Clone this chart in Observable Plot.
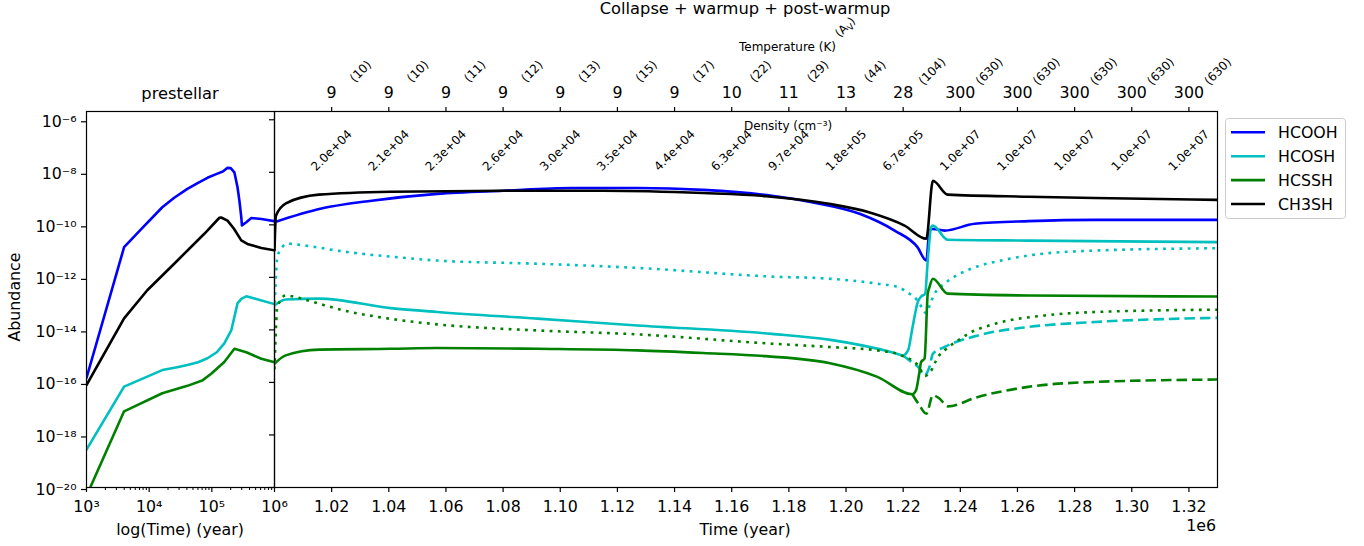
<!DOCTYPE html>
<html><head><meta charset="utf-8">
<script src="https://cdn.jsdelivr.net/npm/d3@7"></script>
<script src="https://cdn.jsdelivr.net/npm/@observablehq/plot@0.6"></script>
<style>
body{margin:0;background:#fff;font-family:"DejaVu Sans",sans-serif;}
#wrap{position:relative;width:1364px;height:546px;overflow:hidden;}
#wrap svg{position:absolute;left:0;top:0;max-width:none;}
</style></head>
<body><div id="wrap"></div>
<script>
// ---------------- DATA ----------------
const species = ["HCOOH", "HCOSH", "HCSSH", "CH3SH"];
const speciesColors = ["#0000ff", "#00bfbf", "#008000", "#000000"];

// y ticks (log10 abundance exponents)
const yTickExponents = [-20, -18, -16, -14, -12, -10, -8, -6];
// prestellar panel x ticks
const preMajorTicks = [1e3, 1e4, 1e5, 1e6];
const preMinorTicks = [2e3,3e3,4e3,5e3,6e3,7e3,8e3,9e3,2e4,3e4,4e4,5e4,6e4,7e4,8e4,9e4,2e5,3e5,4e5,5e5,6e5,7e5,8e5,9e5];
// collapse panel ticks (bottom and top share positions)
const colTicks = [1020000,1040000,1060000,1080000,1100000,1120000,1140000,1160000,1180000,1200000,1220000,1240000,1260000,1280000,1300000,1320000];
const temperatureLabels = ["9","9","9","9","9","9","9","10","11","13","28","300","300","300","300","300"];
const avLabels = ["(10)","(10)","(11)","(12)","(13)","(15)","(17)","(22)","(29)","(44)","(104)","(630)","(630)","(630)","(630)","(630)"];
const densityLabels = ["2.0e+04","2.1e+04","2.3e+04","2.6e+04","3.0e+04","3.5e+04","4.4e+04","6.3e+04","9.7e+04","1.8e+05","6.7e+05","1.0e+07","1.0e+07","1.0e+07","1.0e+07","1.0e+07"];

// ---- prestellar phase: time (yr), log10 abundance ----
const preTime_HCOOH = [1000,3980,7940,16200,25100,40700,60300,85100,120000,150000,178000,200000,229000,257000,275000,295000,302000,355000,427000,617000,1000000];
const preLog_HCOOH  = [-15.83,-10.85,-10.10,-9.33,-8.97,-8.63,-8.40,-8.21,-8.06,-7.97,-7.83,-7.84,-8.00,-8.57,-9.07,-9.71,-10.02,-9.90,-9.74,-9.78,-9.86];
const preTime_HCOSH = [1000,3980,16200,28000,40700,60300,85100,120000,158000,204000,229000,257000,295000,355000,479000,1000000];
const preLog_HCOSH  = [-18.56,-16.16,-15.53,-15.42,-15.34,-15.23,-15.08,-14.85,-14.51,-14.02,-13.51,-12.99,-12.82,-12.72,-12.80,-13.02];
const preTime_HCSSH = [1000,3980,16200,40700,70000,97700,158000,229000,355000,617000,1000000];
const preLog_HCSSH  = [-20.32,-17.10,-16.41,-16.13,-15.93,-15.67,-15.22,-14.72,-14.85,-15.10,-15.23];
const preTime_CH3SH = [1000,3980,9330,25100,75900,132000,141000,178000,224000,295000,380000,617000,1000000];
const preLog_CH3SH  = [-16.10,-13.56,-12.49,-11.48,-10.34,-9.73,-9.72,-9.84,-10.14,-10.59,-10.74,-10.88,-10.97];

// ---- collapse + warmup + post-warmup: time (yr), log10 abundance ----
const colTime_HCOOH = [1000000,1016000,1034000,1057000,1080000,1104000,1127000,1150000,1174000,1188000,1205000,1217000,1225000,1228100,1229200,1230400,1234500,1245000,1264000,1287000,1330000];
const colLog_HCOOH  = [-9.90,-9.39,-9.08,-8.82,-8.70,-8.60,-8.60,-8.67,-8.89,-9.14,-9.59,-10.22,-10.85,-11.36,-10.22,-10.16,-10.22,-9.96,-9.86,-9.81,-9.81];

const colTime_CH3SH = [1000000,1000500,1004000,1015500,1040700,1080000,1115000,1150000,1172000,1194000,1208000,1220500,1228100,1230400,1235600,1264000,1287000,1330000];
const colLog_CH3SH  = [-10.98,-9.65,-9.18,-8.85,-8.74,-8.70,-8.70,-8.79,-8.91,-9.20,-9.52,-10.03,-10.53,-8.32,-8.85,-8.93,-8.98,-9.05];

const colTime_HCOSH = [1000000,1003900,1015600,1040700,1057000,1092000,1127000,1174000,1194000,1217000,1219900,1221700,1223300,1225100,1226300,1227700,1228600,1229800,1230400,1235600,1264000,1330000];
const colLog_HCOSH  = [-13.07,-12.84,-12.81,-13.17,-13.32,-13.57,-13.83,-14.15,-14.37,-14.88,-14.97,-14.78,-13.89,-12.94,-12.73,-12.62,-11.36,-10.09,-10.03,-10.57,-10.60,-10.66];
const colTime_HCOSH_dot = [1000000,1001000,1002700,1004500,1012600,1024300,1040700,1057000,1092000,1127000,1174000,1194000,1211000,1218100,1222200,1225200,1228000,1229500,1231000,1234500,1243800,1254300,1263700,1287000,1330000];
const colLog_HCOSH_dot  = [-13.3,-11.23,-10.85,-10.72,-10.82,-11.02,-11.21,-11.36,-11.48,-11.64,-11.97,-12.05,-12.24,-12.37,-12.62,-12.90,-13.36,-13.0,-12.62,-12.24,-11.67,-11.36,-11.17,-10.98,-10.89];
const colTime_HCOSH_dash = [1219900,1222200,1225200,1227500,1229200,1230400,1234500,1246200,1263700,1287000,1330000];
const colLog_HCOSH_dash  = [-14.97,-15.16,-15.41,-15.73,-15.41,-14.91,-14.65,-14.21,-13.89,-13.70,-13.54];

const colTime_HCSSH = [1000000,1003900,1015600,1040700,1057000,1092000,1127000,1150000,1172000,1194000,1211000,1223200,1224500,1225600,1226300,1227500,1228600,1229200,1230400,1235600,1264000,1330000];
const colLog_HCSSH  = [-15.29,-14.97,-14.75,-14.72,-14.69,-14.72,-14.78,-14.88,-15.00,-15.26,-15.79,-16.45,-16.30,-15.67,-15.22,-15.09,-12.62,-12.37,-12.05,-12.62,-12.69,-12.73];
const colTime_HCSSH_dot = [1000000,1001000,1003900,1007500,1012600,1024300,1040700,1057000,1092000,1127000,1172000,1194000,1211000,1219300,1225200,1227700,1229500,1232200,1234500,1239200,1242700,1252000,1269500,1287000,1330000];
const colLog_HCSSH_dot  = [-15.5,-13.13,-12.69,-12.75,-12.91,-13.26,-13.58,-13.79,-14.02,-14.17,-14.51,-14.65,-14.78,-14.97,-15.35,-15.75,-15.6,-15.03,-14.78,-14.40,-14.15,-13.77,-13.45,-13.32,-13.23];
const colTime_HCSSH_dash = [1223200,1225700,1228100,1230400,1232800,1235600,1246200,1263700,1287000,1330000];
const colLog_HCSSH_dash  = [-16.45,-16.87,-17.19,-16.49,-16.62,-16.91,-16.55,-16.17,-15.98,-15.89];

// ---------------- LAYOUT ----------------
const W = 1364, H = 546;
const frameTop = 111, frameBottom = 487;
const preLeft = 86, split = 274, colRight = 1217;
const yDomain = [1e-20, Math.pow(10, -5.685)];
const yTicks = yTickExponents.map(e => Math.pow(10, e));
const FONT = "DejaVu Sans";
const TICKFS = 15.8;
const LW = 2.6;
const DOT = "2.8,5.4", DASH = "10.5,5";

const supMap = {"-":"⁻","0":"⁰","1":"¹","2":"²","3":"³","4":"⁴","5":"⁵","6":"⁶","7":"⁷","8":"⁸","9":"⁹"};
const sup = s => String(s).replace(/[-0-9]/g, c => supMap[c]);
const pow10Label = v => "10" + sup(Math.round(Math.log10(v)));

const toRows = (times, logs) => times.map((t, i) => ({t, v: Math.pow(10, logs[i])}));
const lineMark = (times, logs, color, dash, curve = "monotone-x") =>
  Plot.line(toRows(times, logs), {
    x: "t", y: "v", stroke: color, strokeWidth: LW,
    strokeDasharray: dash, strokeLinecap: dash ? "butt" : "round", strokeLinejoin: "round",
    curve, clip: true
  });

const baseStyle = {background: "none", fontFamily: FONT, fontSize: TICKFS + "px", color: "#000", overflow: "visible"};

const c = speciesColors;

const left = Plot.plot({
  width: W, height: H,
  marginLeft: preLeft, marginRight: W - split, marginTop: frameTop, marginBottom: H - frameBottom,
  x: {type: "log", domain: [1e3, 1e6]},
  y: {type: "log", domain: yDomain},
  style: baseStyle,
  marks: [
    Plot.axisY(yTicks, {anchor: "left", tickSize: 5, tickPadding: 5, dy: 2, strokeWidth: 1.2, tickFormat: pow10Label, label: null, fontSize: TICKFS}),
    Plot.axisX(preMajorTicks, {anchor: "bottom", tickSize: 5, tickPadding: 8, strokeWidth: 1.2, tickFormat: pow10Label, label: null, fontSize: TICKFS}),
    Plot.axisX(preMinorTicks, {anchor: "bottom", tickSize: 3, strokeWidth: 1, tickFormat: () => "", label: null}),
    lineMark(preTime_HCOOH, preLog_HCOOH, c[0], undefined, "linear"),
    lineMark(preTime_HCOSH, preLog_HCOSH, c[1], undefined, "linear"),
    lineMark(preTime_HCSSH, preLog_HCSSH, c[2], undefined, "linear"),
    lineMark(preTime_CH3SH, preLog_CH3SH, c[3], undefined, "linear"),
    Plot.frame({stroke: "#000", strokeWidth: 1.2})
  ]
});

const right = Plot.plot({
  width: W, height: H,
  marginLeft: split, marginRight: W - colRight, marginTop: frameTop, marginBottom: H - frameBottom,
  x: {domain: [1000000, 1330000]},
  y: {type: "log", domain: yDomain},
  style: baseStyle,
  marks: [
    Plot.axisY(yTicks, {anchor: "left", tickSize: 5, strokeWidth: 1.2, tickFormat: () => "", label: null}),
    Plot.axisX(colTicks, {anchor: "bottom", tickSize: 5, tickPadding: 8, strokeWidth: 1.2, tickFormat: d => (d / 1e6).toFixed(2), label: null, fontSize: TICKFS}),
    Plot.axisX(colTicks, {anchor: "top", tickSize: 5, tickPadding: 9, strokeWidth: 1.2, tickFormat: d => temperatureLabels[colTicks.indexOf(d)], label: null, fontSize: TICKFS}),
    Plot.text(colTicks, {x: d => d, text: (d, i) => avLabels[i], frameAnchor: "top", dx: 29, dy: -40, rotate: -45, fontSize: 12, textAnchor: "middle", lineAnchor: "middle"}),
    Plot.text(colTicks, {x: d => d, text: (d, i) => densityLabels[i], frameAnchor: "top", dy: 39, rotate: -45, fontSize: 12, textAnchor: "middle", lineAnchor: "middle"}),
    // HCOOH
    lineMark(colTime_HCOOH, colLog_HCOOH, c[0]),
    // HCOSH
    lineMark(colTime_HCOSH_dash, colLog_HCOSH_dash, c[1], DASH),
    lineMark(colTime_HCOSH_dot, colLog_HCOSH_dot, c[1], DOT),
    lineMark(colTime_HCOSH, colLog_HCOSH, c[1]),
    // HCSSH
    lineMark(colTime_HCSSH_dash, colLog_HCSSH_dash, c[2], DASH),
    lineMark(colTime_HCSSH_dot, colLog_HCSSH_dot, c[2], DOT),
    lineMark(colTime_HCSSH, colLog_HCSSH, c[2]),
    // CH3SH
    lineMark(colTime_CH3SH, colLog_CH3SH, c[3]),
    Plot.frame({stroke: "#000", strokeWidth: 1.2})
  ]
});

const wrap = document.getElementById("wrap");
wrap.appendChild(left);
wrap.appendChild(right);

// ---------------- annotations + legend ----------------
const ann = d3.create("svg").attr("width", W).attr("height", H)
  .attr("font-family", FONT).style("overflow", "visible");
function txt(x, y, s, size, anchor = "middle", rot = 0) {
  return ann.append("text")
    .attr("transform", `translate(${x},${y}) rotate(${rot})`)
    .attr("text-anchor", anchor).attr("font-size", size).attr("fill", "#000").text(s);
}
txt(745, 14, "Collapse + warmup + post-warmup", 16.3);
txt(180, 99, "prestellar", 16.3);
txt(787.5, 50.5, "Temperature (K)", 12);
txt(788, 130, "Density (cm⁻³)", 12);
txt(180, 535, "log(Time) (year)", TICKFS);
txt(745, 535, "Time (year)", TICKFS);
txt(1216, 531, "1e6", TICKFS, "end");
txt(14, 297, "Abundance", TICKFS, "middle", -90).attr("dy", "0.35em");
// (A_V)
const av = ann.append("text").attr("transform", "translate(845,27) rotate(-45)")
  .attr("text-anchor", "middle").attr("font-size", 11.5).attr("dy", "0.35em");
av.append("tspan").text("(A");
av.append("tspan").attr("font-size", 8.5).attr("dy", 3).text("V");
av.append("tspan").attr("dy", -3).text(")");

// legend
const lg = ann.append("g");
lg.append("rect").attr("x", 1225.5).attr("y", 118.5).attr("width", 120).attr("height", 100)
  .attr("rx", 3).attr("fill", "#fff").attr("fill-opacity", 0.8).attr("stroke", "#cccccc").attr("stroke-width", 1);
species.forEach((s, i) => {
  const y = 132.3 + i * 23.9;
  lg.append("line").attr("x1", 1231).attr("x2", 1265).attr("y1", y).attr("y2", y)
    .attr("stroke", speciesColors[i]).attr("stroke-width", LW);
  lg.append("text").attr("x", 1278).attr("y", y).attr("dy", "0.36em")
    .attr("font-size", TICKFS).attr("fill", "#000").text(s);
});
wrap.appendChild(ann.node());
</script>
</body></html>
